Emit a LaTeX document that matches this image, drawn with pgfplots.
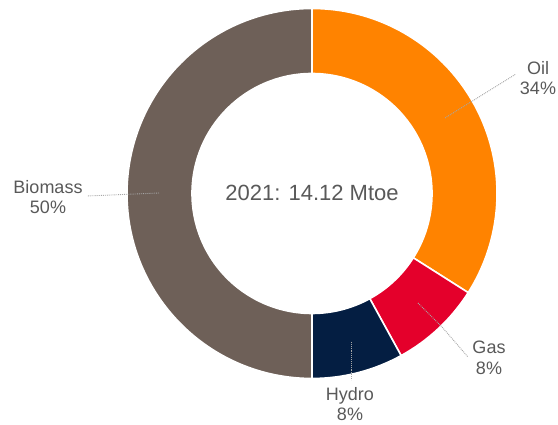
\documentclass[border=0pt]{standalone}
\usepackage{pgfplots}
\pgfplotsset{compat=1.18}
\usepackage{pgfplotstable}
\usepackage{fontspec}
\setmainfont{Liberation Sans}
\definecolor{oil}{HTML}{FF8300}
\definecolor{gas}{HTML}{E4002B}
\definecolor{hydro}{HTML}{041E42}
\definecolor{biomass}{HTML}{6E6058}
\definecolor{txt}{HTML}{595959}
\definecolor{lead}{HTML}{A6A6A6}
\pgfplotstableread{
name value
Oil 34
Gas 8
Hydro 8
Biomass 50
}\shares
\newcommand{\donutwedge}[3]{%
  \fill[#1, draw=white, line width=1.6pt]
    (axis cs:{312+185*cos(#2)},{-193.5+185*sin(#2)})
    arc[start angle=#2, end angle=#3, radius=185pt]
    -- (axis cs:{312+120*cos(#3)},{-193.5+120*sin(#3)})
    arc[start angle=#3, end angle=#2, radius=120pt] -- cycle;}
\begin{document}
\begin{tikzpicture}
\pgfplotstablegetelem{0}{value}\of\shares \let\vA\pgfplotsretval
\pgfplotstablegetelem{1}{value}\of\shares \let\vB\pgfplotsretval
\pgfplotstablegetelem{2}{value}\of\shares \let\vC\pgfplotsretval
\pgfplotstablegetelem{3}{value}\of\shares \let\vD\pgfplotsretval
\pgfmathsetmacro{\aA}{90}
\pgfmathsetmacro{\aB}{\aA-3.6*\vA}
\pgfmathsetmacro{\aC}{\aB-3.6*\vB}
\pgfmathsetmacro{\aD}{\aC-3.6*\vC}
\pgfmathsetmacro{\aE}{\aD-3.6*\vD}
\begin{axis}[
  scale only axis, width=558pt, height=425pt,
  xmin=0, xmax=558, ymin=-425, ymax=0,
  hide axis, clip=false,
]
\donutwedge{oil}{\aA}{\aB}
\donutwedge{gas}{\aB}{\aC}
\donutwedge{hydro}{\aC}{\aD}
\donutwedge{biomass}{\aD}{\aE}
% leader lines
\draw[lead, densely dotted, line width=0.9pt] (axis cs:445,-118) -- (axis cs:516,-74);
\draw[lead, densely dotted, line width=0.9pt] (axis cs:159,-193) -- (axis cs:87,-196);
\draw[lead, densely dotted, line width=0.9pt] (axis cs:418,-303) -- (axis cs:442,-327) -- (axis cs:468,-357);
\draw[lead, densely dotted, line width=0.9pt] (axis cs:351,-342) -- (axis cs:351,-380);
% labels
\node[txt, align=center, font=\fontsize{18}{20.5}\selectfont] at (axis cs:538,-78) {Oil\\\vA\%};
\node[txt, align=center, font=\fontsize{18}{20.5}\selectfont] at (axis cs:48,-197) {Biomass\\\vD\%};
\node[txt, align=center, font=\fontsize{18}{20.5}\selectfont] at (axis cs:489,-358) {Gas\\\vB\%};
\node[txt, align=center, font=\fontsize{18}{20.5}\selectfont] at (axis cs:350,-404) {Hydro\\\vC\%};
\node[txt, font=\fontsize{22}{26}\selectfont] at (axis cs:312,-193) {2021: 14.12 Mtoe};
\end{axis}
\pgfresetboundingbox
\path (current axis.south west) rectangle (current axis.north east);
\end{tikzpicture}
\end{document}
